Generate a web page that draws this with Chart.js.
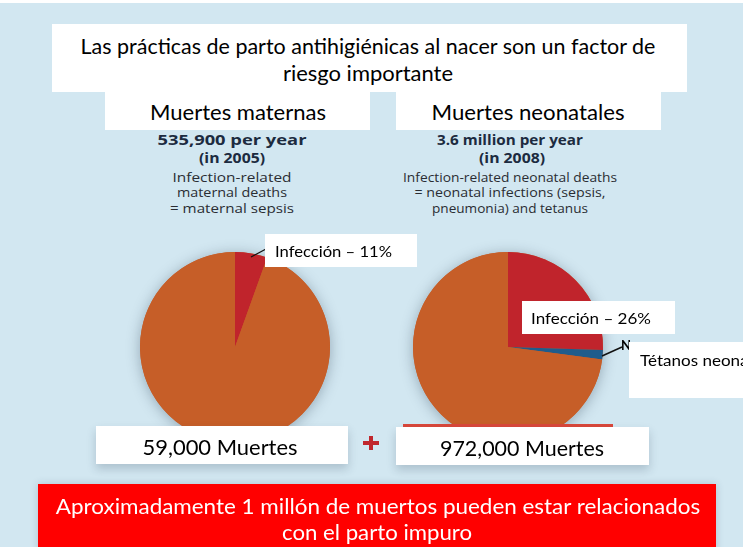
<!DOCTYPE html>
<html>
<head>
<meta charset="UTF-8">
<title>Muertes maternas y neonatales</title>
<script src="https://cdn.jsdelivr.net/npm/chart.js@4.4.1/dist/chart.umd.min.js"></script>
<style>
    body { margin: 0; width: 743px; height: 547px; overflow: hidden; position: relative;
           background: #d2e7f1; font-family: Lato, "Open Sans", sans-serif; }
    .box { position: absolute; background: #fff; }
    .t { position: absolute; white-space: nowrap; line-height: 1; transform: translate(-50%, -50%); color: #000; }
    .l { transform: translate(0, -50%); transform-origin: left center; }
    .st { font-family: "Open Sans", Lato, sans-serif; color: #2a2d33; }
    .st.b { font-weight: bold; color: #1c2b40; }
    .w { color: #fff; }
    canvas { position: absolute; }
    svg { position: absolute; left: 0; top: 0; }
</style>
</head>
<body>
    <div class="box" style="left:0;top:0;width:743px;height:3px"></div>

    <!-- title -->
    <div class="box" style="left:52px;top:24px;width:635px;height:68px"></div>
    <div class="box" style="left:105px;top:90px;width:265px;height:40px"></div>
    <div class="box" style="left:396px;top:90px;width:265px;height:40px"></div>
    <div class="t" style="left:368px;top:46px;font-size:20.5px" data-w="576">Las prácticas de parto antihigiénicas al nacer son un factor de</div>
    <div class="t" style="left:368px;top:73px;font-size:20.5px" data-w="170">riesgo importante</div>
    <div class="t" style="left:238px;top:111px;font-size:21px" data-w="176">Muertes maternas</div>
    <div class="t" style="left:528px;top:111px;font-size:21px" data-w="193">Muertes neonatales</div>

    <!-- source notes -->
    <div class="t st b" style="left:232px;top:140px;font-size:14px" data-w="149">535,900 per year</div>
    <div class="t st b" style="left:232px;top:158px;font-size:14px" data-w="66">(in 2005)</div>
    <div class="t st" style="left:232px;top:178px;font-size:13.5px" data-w="119">Infection-related</div>
    <div class="t st" style="left:232px;top:193px;font-size:13.5px" data-w="110">maternal deaths</div>
    <div class="t st" style="left:232px;top:209px;font-size:13.5px" data-w="124">= maternal sepsis</div>

    <div class="t st b" style="left:510px;top:140px;font-size:14px" data-w="146">3.6 million per year</div>
    <div class="t st b" style="left:512px;top:158px;font-size:14px" data-w="66">(in 2008)</div>
    <div class="t st" style="left:510px;top:178px;font-size:13.5px" data-w="214">Infection-related neonatal deaths</div>
    <div class="t st" style="left:510px;top:193px;font-size:13.5px" data-w="191">= neonatal infections (sepsis,</div>
    <div class="t st" style="left:510px;top:209px;font-size:13.5px" data-w="156">pneumonia) and tetanus</div>

    <!-- pies -->
    <canvas id="maternal" width="230" height="230" style="left:120px;top:232px"></canvas>
    <canvas id="neonatal" width="230" height="230" style="left:393px;top:232px"></canvas>

    <svg width="743" height="547">
        <line x1="251" y1="257" x2="266" y2="249" stroke="#111" stroke-width="1.2"/>
        <line x1="602" y1="356" x2="622" y2="347" stroke="#111" stroke-width="1.5"/>
    </svg>
    <div class="t l" style="left:621px;top:345px;font-weight:bold;font-size:13px">N</div>

    <!-- callouts -->
    <div class="box" style="left:265px;top:234px;width:152px;height:33px"></div>
    <div class="t l" id="c0" style="left:275px;top:251px;font-size:15px" data-w="117"></div>
    <div class="box" style="left:522px;top:301px;width:153px;height:33px"></div>
    <div class="t l" id="c1" style="left:531px;top:318px;font-size:15px" data-w="120"></div>
    <div class="box" style="left:629px;top:342px;width:130px;height:56px"></div>
    <div class="t l" id="c2" style="left:640px;top:360px;font-size:15px" data-w="127"></div>

    <!-- totals -->
    <div class="box" style="left:403px;top:424px;width:210px;height:3px;background:#d9473a"></div>
    <div class="box" style="left:96px;top:426px;width:252px;height:38px;box-shadow:0 5px 9px rgba(40,60,80,0.22)"></div>
    <div class="box" style="left:396px;top:427px;width:253px;height:38px;box-shadow:0 5px 9px rgba(40,60,80,0.22)"></div>
    <div class="t" id="n0" style="left:220px;top:446px;font-size:21px" data-w="155"></div>
    <div class="t" id="n1" style="left:522px;top:447px;font-size:21px" data-w="164"></div>
    <div class="box" style="left:363px;top:441px;width:16px;height:4px;background:#c0272d"></div>
    <div class="box" style="left:369px;top:436px;width:4px;height:14px;background:#c0272d"></div>

    <!-- banner -->
    <div class="box" style="left:38px;top:484px;width:678px;height:70px;background:#ff0000;box-shadow:0 0 8px rgba(40,60,80,0.2)"></div>
    <div class="t w" style="left:378px;top:505px;font-size:21px" data-w="645">Aproximadamente 1 millón de muertos pueden estar relacionados</div>
    <div class="t w" style="left:377px;top:531px;font-size:21px" data-w="190">con el parto impuro</div>

<script>
    // slice sizes (degrees converted to %)
    const maternalLabels = ['Infección', 'Otras causas'];
    const maternalValues = [5.5, 94.5];
    const neonatalLabels = ['Infección', 'Tétanos neonatal', 'Otras causas'];
    const neonatalValues = [25.5, 1.6, 72.9];
    const calloutLabels = ['Infección – 11%', 'Infección – 26%', 'Tétanos neonatal'];
    const totalLabels = ['59,000 Muertes', '972,000 Muertes'];

    const ORANGE = '#c65e28';
    const RED = '#c0242c';
    const BLUE = '#1f5c8c';

    calloutLabels.forEach((s, i) => document.getElementById('c' + i).textContent = s);
    totalLabels.forEach((s, i) => document.getElementById('n' + i).textContent = s);

    // squeeze each line horizontally so it spans the same width as in the slide
    const mc = document.createElement('canvas').getContext('2d');
    document.querySelectorAll('[data-w]').forEach(el => {
        const cs = getComputedStyle(el);
        mc.font = cs.fontWeight + ' ' + cs.fontSize + ' ' + cs.fontFamily;
        const k = +el.dataset.w / mc.measureText(el.textContent).width;
        const shift = el.classList.contains('l') ? '0' : '-50%';
        el.style.transform = 'translate(' + shift + ', -50%) scaleX(' + k.toFixed(3) + ')';
    });

    // soft shadow under the whole disc
    const discShadow = {
        id: 'discShadow',
        beforeDatasetsDraw(chart) {
            const arc = chart.getDatasetMeta(0).data[0];
            const ctx = chart.ctx;
            ctx.save();
            ctx.shadowColor = 'rgba(30,50,70,0.35)';
            ctx.shadowBlur = 14;
            ctx.shadowOffsetY = 2;
            ctx.fillStyle = ORANGE;
            ctx.beginPath();
            ctx.arc(arc.x, arc.y, arc.outerRadius, 0, Math.PI * 2);
            ctx.fill();
            ctx.restore();
        }
    };

    function makePie(id, labels, values, colors) {
        return new Chart(document.getElementById(id), {
            type: 'pie',
            data: { labels: labels, datasets: [{ data: values, backgroundColor: colors, borderWidth: 0 }] },
            options: {
                responsive: false,
                animation: false,
                layout: { padding: 20 },
                plugins: { legend: { display: false }, tooltip: { enabled: false } }
            },
            plugins: [discShadow]
        });
    }

    makePie('maternal', maternalLabels, maternalValues, [RED, ORANGE]);
    makePie('neonatal', neonatalLabels, neonatalValues, [RED, BLUE, ORANGE]);
</script>
</body>
</html>
